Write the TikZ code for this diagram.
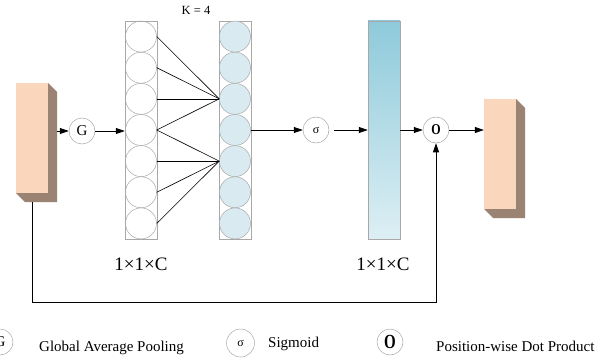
\documentclass[tikz,border=0pt]{standalone}
\usepackage{fontspec}
\setmainfont{Liberation Serif}
\usetikzlibrary{arrows.meta,calc}
\definecolor{peach}{HTML}{FAD7BC}
\definecolor{peachshade}{HTML}{9A8372}
\definecolor{cellblue}{HTML}{D9EBF1}
\definecolor{bartop}{HTML}{8ECADB}
\definecolor{barbot}{HTML}{DDEFF4}
\definecolor{rim}{HTML}{A8A8A8}
\tikzset{
  fsize/.style={font=\fontsize{#1}{#1}\selectfont},
  block/.style={rectangle, fill=peach, draw=none, minimum width=32pt, minimum height=110pt, inner sep=0pt},
  shade3d/.style={fill=peachshade, draw=none},
  opnode/.style={circle, draw=rim, line width=0.5pt, fill=white, minimum size=26pt, inner sep=0pt},
  colbox/.style={rectangle, draw=rim, line width=0.5pt, minimum width=32pt, minimum height=218pt, inner sep=0pt},
  cell/.style={circle, draw=rim, line width=0.5pt, minimum size=31pt, inner sep=0pt},
  link/.style={draw=black, line width=0.6pt},
  flow/.style={draw=black, line width=0.7pt, -{Triangle[length=9pt,width=6pt]}},
  dotsym/.style={fsize=15, font=\fontsize{15}{15}\selectfont\bfseries},
}
\begin{document}
\begin{tikzpicture}[x=1pt,y=-1pt]
\useasboundingbox (0,0) rectangle (612,361);

% input feature block with its shaded depth
\path[shade3d] (48,83) -- (57,92) -- (57,202) -- (25,202) -- (16,193) -- (48,193) -- cycle;
\node[block] (inL) at (32,138) {};

% output feature block
\path[shade3d] (516,99) -- (525,108) -- (525,218) -- (493,218) -- (484,209) -- (516,209) -- cycle;
\node[block] (outR) at (500,154) {};

% global average pooling
\node[opnode, font=\fontsize{15}{15}\selectfont] (gap) at (82,131) {G};

% pooled channel vector and 1D convolution output
\node[colbox] (colA) at (141,130) {};
\node[colbox] (colB) at (235,130) {};
\foreach \i in {0,...,6} {
  \node[cell] (a\i) at (141,{36.57+31.14*\i}) {};
  \node[cell, fill=cellblue] (b\i) at (235,{36.57+31.14*\i}) {};
}
\node[font=\fontsize{12.5}{12.5}\selectfont, anchor=base] (klab) at (196,15) {K = 4};

% local cross-channel connections (kernel size 4)
\foreach \i in {0,1,2,3} \draw[link] (a\i.east) -- (b2.west);
\foreach \i in {3,4,5,6} \draw[link] (a\i.east) -- (b4.west);

% sigmoid and attention weights
\node[opnode, font=\fontsize{12}{12}\selectfont] (sig) at (316,130) {σ};
\shade[top color=bartop, bottom color=barbot] (368,21) rectangle (400,239);
\node[rectangle, draw=rim, line width=0.5pt, minimum width=32pt, minimum height=218pt, inner sep=0pt] (bar) at (384,130) {};

% position-wise product
\node[opnode, font=\fontsize{15}{15}\selectfont\bfseries] (dot) at (436,130) {\scalebox{0.8}[1]{O}};

% dimension labels
\node[font=\fontsize{19}{19}\selectfont, anchor=base] (dimA) at (141,270) {1×1×C};
\node[font=\fontsize{19}{19}\selectfont, anchor=base] (dimB) at (383,270) {1×1×C};

% main flow
\draw[flow] ([xshift=9pt]inL.east |- gap.west) -- (gap.west);
\draw[flow] (gap.east) -- (colA.west |- gap.east);
\draw[flow] (colB.east |- sig.west) -- (sig.west);
\draw[flow] ([xshift=5pt]sig.east) -- (bar.west |- sig.east);
\draw[flow] (bar.east |- dot.west) -- (dot.west);
\draw[flow] (dot.east) -- (outR.west |- dot.east);

% identity shortcut
\coordinate (skip) at (32,302);
\draw[flow] ([yshift=-9pt]inL.south) -- (skip) -| (dot.south);

% legend
\node[opnode, font=\fontsize{15}{15}\selectfont] (lgG) at (0,342) {G};
\node[font=\fontsize{15}{15}\selectfont, anchor=base west, inner sep=0pt] (lgGt) at (39,351) {Global Average Pooling};
\node[opnode, minimum size=28pt, font=\fontsize{12}{12}\selectfont] (lgS) at (240.5,343) {σ};
\node[font=\fontsize{15}{15}\selectfont, anchor=base west, inner sep=0pt] (lgSt) at (268,347) {Sigmoid};
\node[opnode, font=\fontsize{20}{20}\selectfont\bfseries] (lgD) at (390,342) {\scalebox{0.75}[1]{O}};
\node[font=\fontsize{15}{15}\selectfont, anchor=base west, inner sep=0pt] (lgDt) at (436,351) {Position-wise Dot Product};
\end{tikzpicture}
\end{document}
